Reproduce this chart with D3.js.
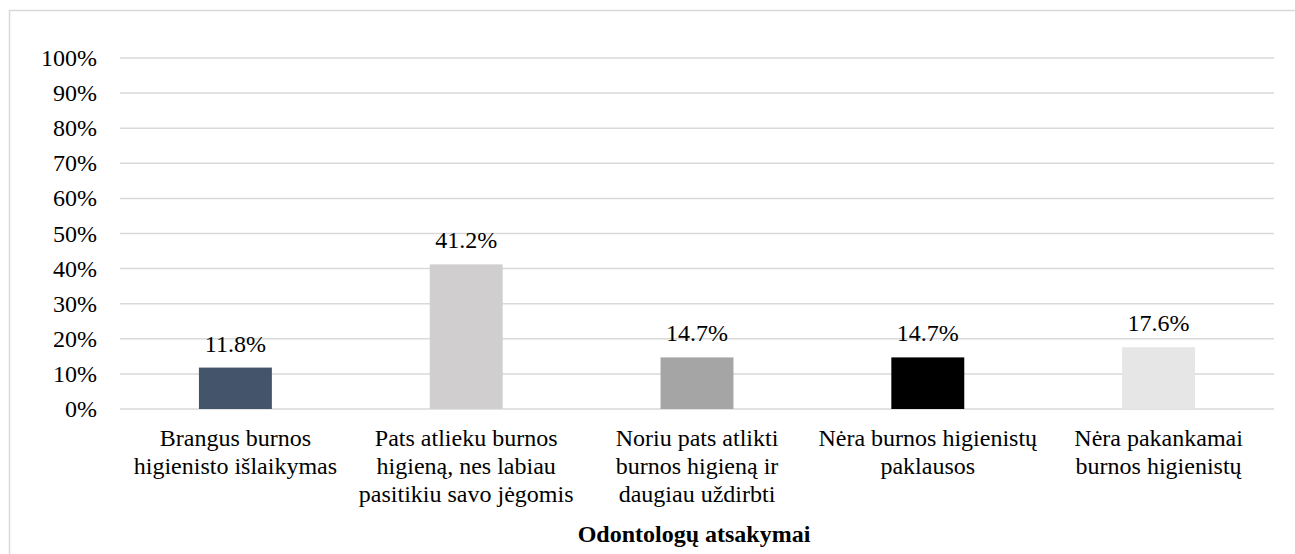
<!DOCTYPE html>
<html>
<head>
<meta charset="utf-8">
<script src="https://cdn.jsdelivr.net/npm/d3@7"></script>
<style>
  body { margin: 0; background: #fff; }
</style>
</head>
<body>
<svg id="chart" width="1295" height="554"></svg>
<script>
const categories = [
  ["Brangus burnos", "higienisto išlaikymas"],
  ["Pats atlieku burnos", "higieną, nes labiau", "pasitikiu savo jėgomis"],
  ["Noriu pats atlikti", "burnos higieną ir", "daugiau uždirbti"],
  ["Nėra burnos higienistų", "paklausos"],
  ["Nėra pakankamai", "burnos higienistų"]
];
const values = [11.8, 41.2, 14.7, 14.7, 17.6];
const colors = ["#44546a", "#d0cece", "#a5a5a5", "#000000", "#e7e6e6"];
const yTicks = [0, 10, 20, 30, 40, 50, 60, 70, 80, 90, 100];
const axisTitle = "Odontologų atsakymai";

const FONT = '"Liberation Serif"';
const SIZE = "24px";
const svg = d3.select("#chart");
const margin = { left: 120, right: 1274, top: 58, bottom: 409 };

// outer chart border (only top and left are visible in frame)
svg.append("rect")
  .attr("x", 9.5).attr("y", 10.5)
  .attr("width", 1300).attr("height", 600)
  .attr("fill", "none")
  .attr("stroke", "#d9d9d9")
  .attr("stroke-width", 1.5);

const x = d3.scaleBand()
  .domain(d3.range(values.length))
  .range([margin.left, margin.right])
  .paddingInner(0.684)
  .paddingOuter(0.342);

const y = d3.scaleLinear()
  .domain([0, 100])
  .range([margin.bottom, margin.top]);

// gridlines
svg.append("g")
  .selectAll("line")
  .data(yTicks)
  .join("line")
  .attr("x1", margin.left).attr("x2", margin.right)
  .attr("y1", d => y(d)).attr("y2", d => y(d))
  .attr("stroke", "#d9d9d9")
  .attr("stroke-width", 1.5);

// y tick labels
svg.append("g")
  .selectAll("text")
  .data(yTicks)
  .join("text")
  .attr("x", 97)
  .attr("y", d => y(d) + 8)
  .attr("text-anchor", "end")
  .style("font-family", FONT)
  .style("font-size", SIZE)
  .attr("fill", "#000")
  .text(d => d + "%");

// bars
svg.append("g")
  .selectAll("rect")
  .data(values)
  .join("rect")
  .attr("x", (d, i) => x(i))
  .attr("y", d => y(d))
  .attr("width", x.bandwidth())
  .attr("height", d => y(0) - y(d))
  .attr("fill", (d, i) => colors[i]);

// value labels
svg.append("g")
  .selectAll("text")
  .data(values)
  .join("text")
  .attr("x", (d, i) => x(i) + x.bandwidth() / 2)
  .attr("y", d => y(d) - 16)
  .attr("text-anchor", "middle")
  .style("font-family", FONT)
  .style("font-size", SIZE)
  .text(d => d.toFixed(1) + "%");

// category labels
const cat = svg.append("g")
  .selectAll("text")
  .data(categories)
  .join("text")
  .attr("x", (d, i) => x(i) + x.bandwidth() / 2)
  .attr("y", 446)
  .attr("text-anchor", "middle")
  .style("font-family", FONT)
  .style("font-size", SIZE);

cat.selectAll("tspan")
  .data(d => d)
  .join("tspan")
  .attr("x", function () { return d3.select(this.parentNode).attr("x"); })
  .attr("dy", (d, i) => i === 0 ? 0 : 28)
  .text(d => d);

// axis title
svg.append("text")
  .attr("x", (margin.left + margin.right) / 2 - 3)
  .attr("y", 542)
  .attr("text-anchor", "middle")
  .style("font-family", FONT)
  .style("font-size", SIZE)
  .style("font-weight", "bold")
  .text(axisTitle);
</script>
</body>
</html>
